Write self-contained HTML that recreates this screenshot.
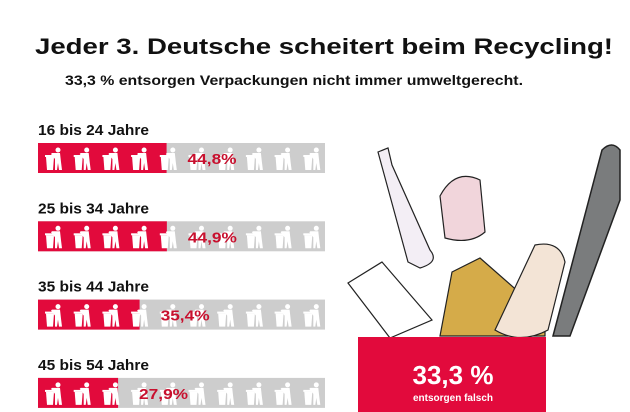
<!DOCTYPE html>
<html><head><meta charset="utf-8">
<style>
body{margin:0;width:630px;height:412px;overflow:hidden;background:#fff;font-family:"Liberation Sans",sans-serif;}
svg{display:block}
</style></head><body>
<svg id="chart" width="630" height="412">
<defs>
<g id="icon">
  <path d="M-8,-3 L0,-3 L-1,10 L-7,10 Z" fill="#fff"/>
  <rect x="-9" y="-5" width="10" height="2" fill="#fff"/>
  <circle cx="4" cy="-10" r="2.5" fill="#fff"/>
  <path d="M2,-7 L6,-7 L7,2 L8,10 L5,10 L4,3 L3,10 L1,10 L1,-1 L-3,-6 L-2,-7 Z" fill="#fff"/>
</g>
</defs>
<text x="35" y="54" font-size="22" font-weight="bold" fill="#111" textLength="578" lengthAdjust="spacingAndGlyphs">Jeder 3. Deutsche scheitert beim Recycling!</text>
<text x="65" y="85" font-size="14" font-weight="bold" fill="#111" textLength="458" lengthAdjust="spacingAndGlyphs">33,3 % entsorgen Verpackungen nicht immer umweltgerecht.</text>
<g id="bars"></g>
<g>
  <path d="M553,336 L602,150 Q612,140 620,150 L620,200 L570,336 Z" fill="#7a7c7d" stroke="#222" stroke-width="1.5"/>
  <path d="M378,152 L388,148 L392,165 L430,250 Q440,262 420,268 L408,262 Z" fill="#f3eef5" stroke="#222" stroke-width="1.2"/>
  <path d="M440,196 Q455,168 480,180 L485,232 Q470,245 445,238 Z" fill="#f1d5db" stroke="#222" stroke-width="1.2"/>
  <path d="M348,283 L382,262 L432,320 L390,338 Z" fill="#fff" stroke="#222" stroke-width="1.2"/>
  <path d="M452,272 L480,258 L545,315 L545,336 L440,336 Z" fill="#d5ab49" stroke="#222" stroke-width="1.2"/>
  <path d="M535,245 Q560,240 565,262 L548,330 Q520,345 495,330 Z" fill="#f3e4d6" stroke="#222" stroke-width="1.2"/>
  <rect x="358" y="337" width="188" height="75" fill="#e20a3c"/>
  <text x="453" y="384" text-anchor="middle" font-size="26" font-weight="bold" fill="#fff">33,3 %</text>
  <text x="453" y="401" text-anchor="middle" font-size="10" font-weight="bold" fill="#fff">entsorgen falsch</text>
</g>
</svg>
<script>
const categories = ["16 bis 24 Jahre","25 bis 34 Jahre","35 bis 44 Jahre","45 bis 54 Jahre"];
const values = [44.8, 44.9, 35.4, 27.9];
const valueLabels = ["44,8%","44,9%","35,4%","27,9%"];
const NS="http://www.w3.org/2000/svg";
const x0=38, barW=287, barH=30, top0=143, pitch=78.3;
const xs=v=>x0+v/100*barW;
const g=document.getElementById('bars');
function mk(t,a){const e=document.createElementNS(NS,t);for(const k in a)e.setAttribute(k,a[k]);return e;}
categories.forEach((c,i)=>{
  const y=top0+i*pitch;
  const lab=mk('text',{x:x0,y:y-8,'font-size':15,'font-weight':'bold',fill:'#111',textLength:111,lengthAdjust:'spacingAndGlyphs'});
  lab.textContent=c;
  
  
  g.appendChild(lab);
  const bg=mk('rect',{x:x0,y:y,width:barW,height:barH,fill:'#cdcdcd'});
  
  
  g.appendChild(bg);
  const bar=mk('rect',{x:x0,y:y,width:xs(values[i])-x0,height:barH,fill:'#e20a3c'});
  
  
  g.appendChild(bar);
  for(let k=0;k<10;k++){
    const u=mk('use',{href:'#icon',x:x0+16+k*28.7,y:y+17});
    
    
    g.appendChild(u);
  }
  const vl=mk('text',{x:xs(values[i])+21,y:y+21,'font-size':15,'font-weight':'bold',fill:'#c8102e',textLength:49,lengthAdjust:'spacingAndGlyphs'});
  vl.textContent=valueLabels[i];
  
  
  g.appendChild(vl);
});
</script>
</body></html>
